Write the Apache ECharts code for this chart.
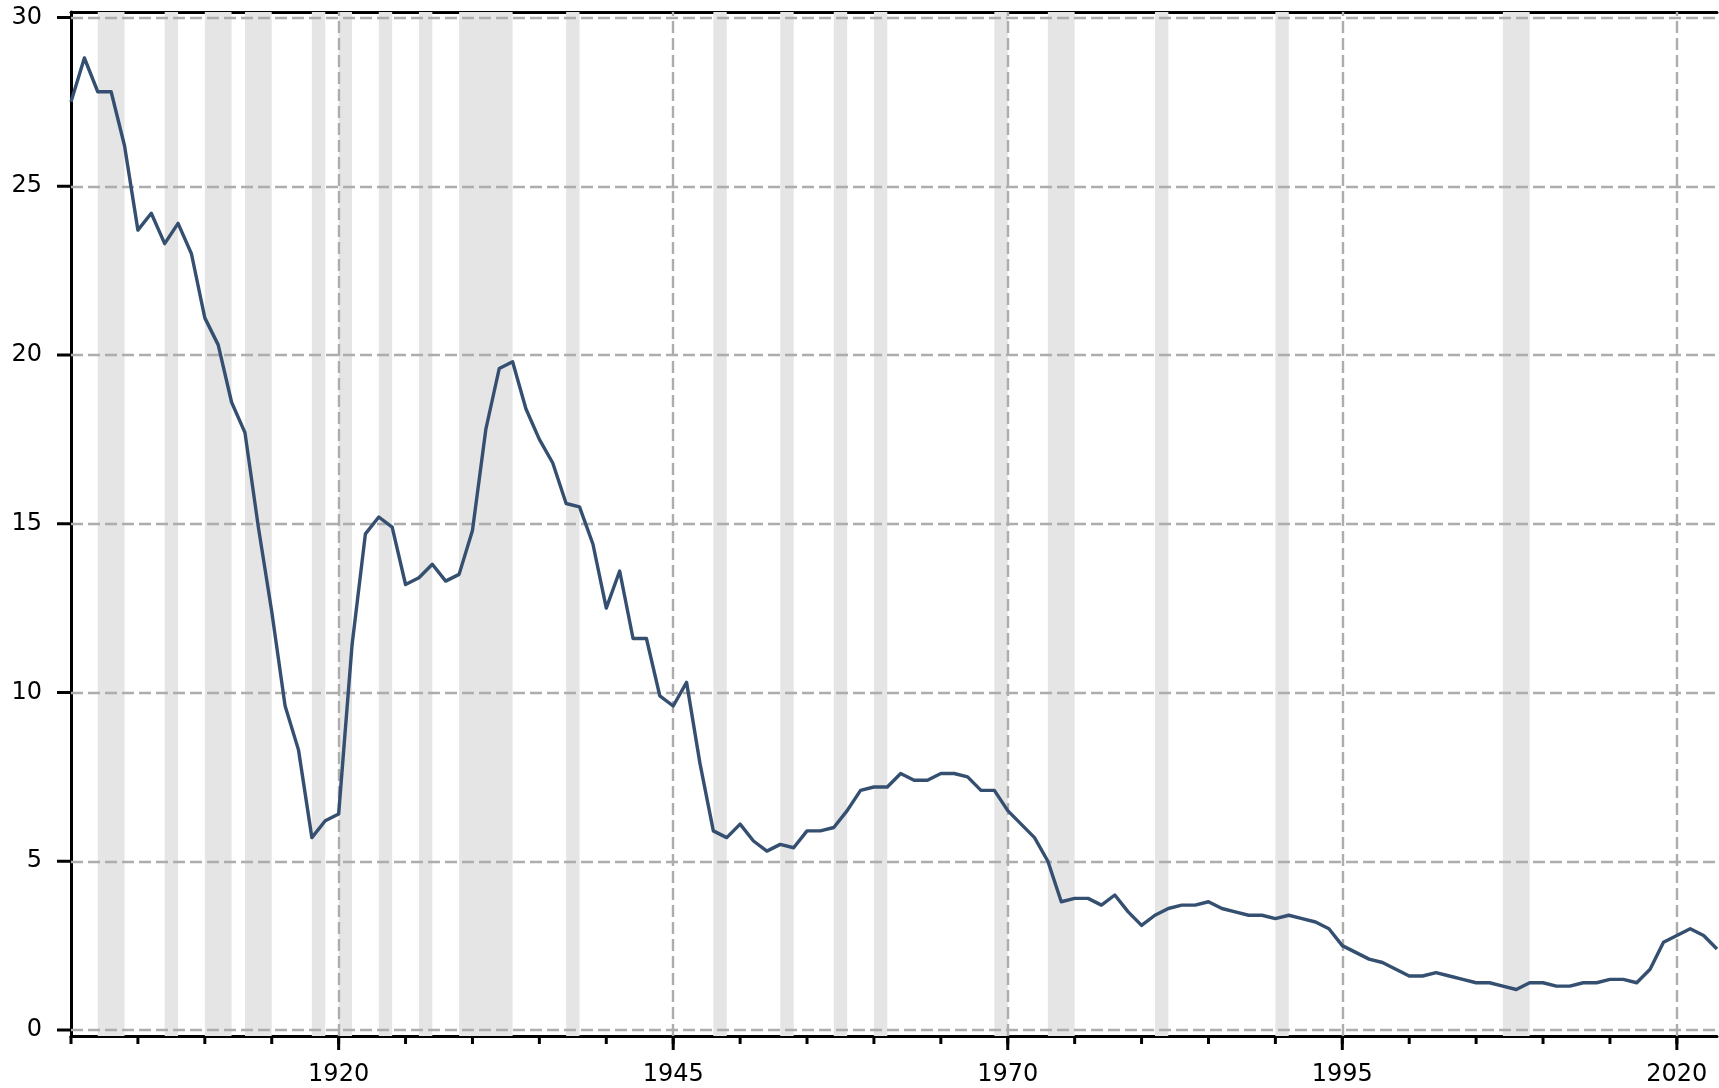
<!DOCTYPE html>
<html>
<head>
<meta charset="utf-8">
<script src="https://cdn.jsdelivr.net/npm/echarts@6/dist/echarts.min.js"></script>
<style>
  html, body { margin: 0; padding: 0; background: #ffffff; }
  #chart { width: 1719px; height: 1088px; }
</style>
</head>
<body>
<div id="chart"></div>
<script>
// ---- data ----
const years = [1900,1901,1902,1903,1904,1905,1906,1907,1908,1909,
  1910,1911,1912,1913,1914,1915,1916,1917,1918,1919,
  1920,1921,1922,1923,1924,1925,1926,1927,1928,1929,
  1930,1931,1932,1933,1934,1935,1936,1937,1938,1939,
  1940,1941,1942,1943,1944,1945,1946,1947,1948,1949,
  1950,1951,1952,1953,1954,1955,1956,1957,1958,1959,
  1960,1961,1962,1963,1964,1965,1966,1967,1968,1969,
  1970,1971,1972,1973,1974,1975,1976,1977,1978,1979,
  1980,1981,1982,1983,1984,1985,1986,1987,1988,1989,
  1990,1991,1992,1993,1994,1995,1996,1997,1998,1999,
  2000,2001,2002,2003,2004,2005,2006,2007,2008,2009,
  2010,2011,2012,2013,2014,2015,2016,2017,2018,2019,
  2020,2021,2022,2023];

const values = [27.5,28.8,27.8,27.8,26.2,23.7,24.2,23.3,23.9,23.0,
  21.1,20.3,18.6,17.7,14.9,12.4,9.6,8.3,5.7,6.2,
  6.4,11.4,14.7,15.2,14.9,13.2,13.4,13.8,13.3,13.5,
  14.8,17.8,19.6,19.8,18.4,17.5,16.8,15.6,15.5,14.4,
  12.5,13.6,11.6,11.6,9.9,9.6,10.3,7.9,5.9,5.7,
  6.1,5.6,5.3,5.5,5.4,5.9,5.9,6.0,6.5,7.1,
  7.2,7.2,7.6,7.4,7.4,7.6,7.6,7.5,7.1,7.1,
  6.5,6.1,5.7,5.0,3.8,3.9,3.9,3.7,4.0,3.5,
  3.1,3.4,3.6,3.7,3.7,3.8,3.6,3.5,3.4,3.4,
  3.3,3.4,3.3,3.2,3.0,2.5,2.3,2.1,2.0,1.8,
  1.6,1.6,1.7,1.6,1.5,1.4,1.4,1.3,1.2,1.4,
  1.4,1.3,1.3,1.4,1.4,1.5,1.5,1.4,1.8,2.6,
  2.8,3.0,2.8,2.4];

const recessionStarts = [1902,1907,1910,1913,1918,1920,1923,1926,1929,1937,1948,1953,1957,1960,1969,1973,1981,1990,2007];
const recessionEnds   = [1904,1908,1912,1915,1919,1921,1924,1927,1933,1938,1949,1954,1958,1961,1970,1975,1982,1991,2009];

const xMinorTicks = [1900,1905,1910,1915,1920,1925,1930,1935,1940,1945,1950,1955,1960,1965,1970,1975,1980,1985,1990,1995,2000,2005,2010,2015,2020];
const xMajorTicks = [1920,1945,1970,1995,2020];
const yTicks = [0,5,10,15,20,25,30];

const xMin = 1900, xMax = 2023;
const yMin = 0, yMax = 30;

// ---- layout ----
const W = 1719, H = 1088;
const plotLeft = 71, plotRight = 2;
const frameTop = 12, frameBottomPx = 1036;   // spine positions
const dataTop = 17.5, dataBottomPx = 1030;   // y=30 and y=0 positions
const perPx = (yMax - yMin) / (dataBottomPx - dataTop);
const frameYMin = yMin - (frameBottomPx - dataBottomPx) * perPx;
const frameYMax = yMax + (dataTop - frameTop) * perPx;

const FONT = 'DejaVu Sans';
const FS = 24;
const gridColor = '#adadad';
const axisColor = '#000000';
const AW = 3;
const MAJOR_LEN = 14, MINOR_LEN = 8;

const lineData = years.map((y, i) => [y, values[i]]);
const bandData = recessionStarts.map((s, i) => [{ xAxis: s }, { xAxis: recessionEnds[i] }]);

const chart = echarts.init(document.getElementById('chart'), null, { renderer: 'canvas' });

const noLabel = { show: false };
const noTick = { show: false };
const noSplit = { show: false };
const spine = { show: true, onZero: false, lineStyle: { color: axisColor, width: AW } };

function xTickRenderer(len, color) {
  return function (params, api) {
    const p = api.coord([api.value(0), api.value(1)]);
    return {
      type: 'line',
      shape: { x1: p[0], y1: p[1], x2: p[0], y2: p[1] + len },
      style: { stroke: color, lineWidth: AW }
    };
  };
}
function yTickRenderer(len, color) {
  return function (params, api) {
    const p = api.coord([api.value(0), api.value(1)]);
    return {
      type: 'line',
      shape: { x1: p[0] - len, y1: p[1], x2: p[0], y2: p[1] },
      style: { stroke: color, lineWidth: AW }
    };
  };
}

const option = {
  animation: false,
  backgroundColor: '#ffffff',
  grid: [
    { left: plotLeft, right: plotRight, top: frameTop, bottom: H - frameBottomPx, containLabel: false },
    { left: plotLeft, right: plotRight, top: dataTop, bottom: H - dataBottomPx, containLabel: false }
  ],
  xAxis: [
    { type: 'value', gridIndex: 0, min: xMin, max: xMax, position: 'bottom',
      axisLine: spine, axisTick: noTick, axisLabel: noLabel, splitLine: noSplit },
    { type: 'value', gridIndex: 0, min: xMin, max: xMax, position: 'top',
      axisLine: spine, axisTick: noTick, axisLabel: noLabel, splitLine: noSplit },
    { type: 'value', gridIndex: 1, min: xMin, max: xMax, show: false, splitLine: noSplit },
    { type: 'value', gridIndex: 0, min: xMin, max: xMax, position: 'bottom',
      axisLine: { show: false, onZero: false }, axisTick: noTick, splitLine: noSplit,
      axisLabel: {
        show: true, customValues: xMajorTicks, fontFamily: FONT, fontSize: FS, color: '#000', margin: 27,
        formatter: v => String(Math.round(v))
      } }
  ],
  yAxis: [
    { type: 'value', gridIndex: 0, min: frameYMin, max: frameYMax, position: 'left',
      axisLine: spine, axisTick: noTick, axisLabel: noLabel, splitLine: noSplit },
    { type: 'value', gridIndex: 1, min: yMin, max: yMax, interval: 5, position: 'left',
      show: false, splitLine: noSplit },
    { type: 'value', gridIndex: 0, min: frameYMin, max: frameYMax, position: 'left',
      axisLine: { show: false, onZero: false }, axisTick: noTick, splitLine: noSplit,
      axisLabel: {
        show: true, customValues: yTicks, fontFamily: FONT, fontSize: FS, color: '#000', margin: 29,
        formatter: v => String(Math.round(v))
      } }
  ],
  series: [
    { type: 'line', xAxisIndex: 0, yAxisIndex: 0, data: [], silent: true, z: 1,
      markArea: { silent: true, z: 1, itemStyle: { color: '#e5e5e5', opacity: 1, borderWidth: 0 },
        label: { show: false }, data: bandData } },
    { type: 'line', xAxisIndex: 0, yAxisIndex: 0, data: [], silent: true, z: 3,
      markLine: { silent: true, z: 3, symbol: ['none', 'none'], animation: false, label: { show: false },
        lineStyle: { color: gridColor, width: 2.4, type: [12, 5] },
        data: xMajorTicks.map(v => ({ xAxis: v })) } },
    { type: 'line', xAxisIndex: 2, yAxisIndex: 1, data: [], silent: true, z: 3,
      markLine: { silent: true, z: 3, symbol: ['none', 'none'], animation: false, label: { show: false },
        lineStyle: { color: gridColor, width: 2.4, type: [12, 5] },
        data: yTicks.map(v => ({ yAxis: v })) } },
    { type: 'line', xAxisIndex: 2, yAxisIndex: 1, data: lineData, z: 10,
      showSymbol: false, symbol: 'none', clip: false,
      lineStyle: { color: '#344f70', width: 3.4, join: 'round' }, emphasis: { disabled: true } },
    { type: 'custom', xAxisIndex: 0, yAxisIndex: 0, clip: false, silent: true, z: 12,
      data: xMinorTicks.map(v => [v, frameYMin]), renderItem: xTickRenderer(MINOR_LEN, axisColor) },
    { type: 'custom', xAxisIndex: 0, yAxisIndex: 0, clip: false, silent: true, z: 12,
      data: xMajorTicks.map(v => [v, frameYMin]), renderItem: xTickRenderer(MAJOR_LEN, axisColor) },
    { type: 'custom', xAxisIndex: 2, yAxisIndex: 1, clip: false, silent: true, z: 12,
      data: yTicks.map(v => [xMin, v]), renderItem: yTickRenderer(MAJOR_LEN, axisColor) }
  ]
};

chart.setOption(option);
</script>
</body>
</html>
